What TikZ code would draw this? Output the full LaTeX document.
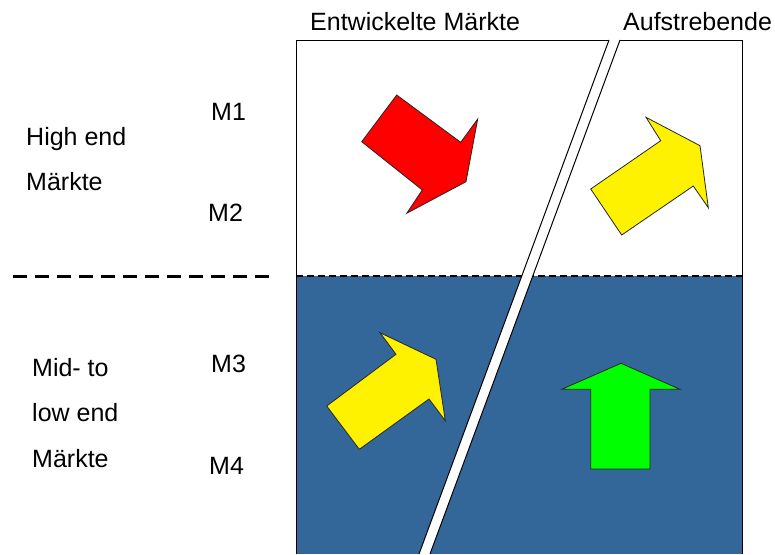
\documentclass[tikz,border=0pt]{standalone}
\usepackage{fontspec}
\setmainfont{Liberation Sans}
\definecolor{mblue}{RGB}{51,102,153}
\begin{document}
\begin{tikzpicture}[x=1pt,y=-1pt,
  lbl/.style={anchor=base west,inner sep=0pt,font=\fontsize{25}{30}\selectfont},
  arr/.style={draw=black!85,line width=0.8pt,line join=miter}]
\useasboundingbox (0,0) rectangle (775,554);
% blue lower area
\fill[mblue] (296,276) rectangle (742,554);
% frame
\draw[line width=1pt] (296,554) -- (296,40) -- (609,40);
\draw[line width=1pt] (620,40) -- (742,40) -- (742,554);
% dashed separators
\draw[line width=1.4pt,dash pattern=on 7pt off 4pt] (296,276) -- (742,276);
\draw[line width=3pt,dash pattern=on 14pt off 8pt] (13,276) -- (275,276);
% white diagonal gap
\fill[white] (609,40) -- (620,40) -- (430,554) -- (419,554) -- cycle;
\draw[line width=1pt] (609,40) -- (419,554);
\draw[line width=1pt] (620,40) -- (430,554);
% arrows
\filldraw[arr,fill=red] (396.7,95) -- (460.7,142.3) -- (477.7,119) -- (466,181.7)
  -- (406.7,213.3) -- (422.3,190) -- (361.7,141.7) -- cycle;
\filldraw[arr,fill=yellow] (646,117.3) -- (700,145.7) -- (708.3,207.7) -- (693.3,186)
  -- (621.7,235) -- (590.7,189) -- (660.7,140.7) -- cycle;
\filldraw[arr,fill=yellow] (380,332.7) -- (436,359.3) -- (445.3,420.7) -- (429,399)
  -- (359.3,449.3) -- (326.7,406) -- (396,354.3) -- cycle;
\filldraw[arr,fill=green] (621,363.3) -- (680,389.3) -- (650,389.3) -- (650,469)
  -- (590.7,469) -- (590.7,389.3) -- (561.7,389.3) -- cycle;
% labels
\node[lbl] (ent) at (310,30) {Entwickelte Märkte};
\node[lbl] (auf) at (623,30) {Aufstrebende};
\node[lbl] (m1) at (211,120) {M1};
\node[lbl] (m2) at (208,221) {M2};
\node[lbl] (m3) at (211,372) {M3};
\node[lbl] (m4) at (209,474) {M4};
\node[lbl] (he1) at (26,145) {High end};
\node[lbl] (he2) at (26,190) {Märkte};
\node[lbl] (ml1) at (32,376) {Mid- to};
\node[lbl] (ml2) at (32,421) {low end};
\node[lbl] (ml3) at (32,467) {Märkte};
\end{tikzpicture}
\end{document}
